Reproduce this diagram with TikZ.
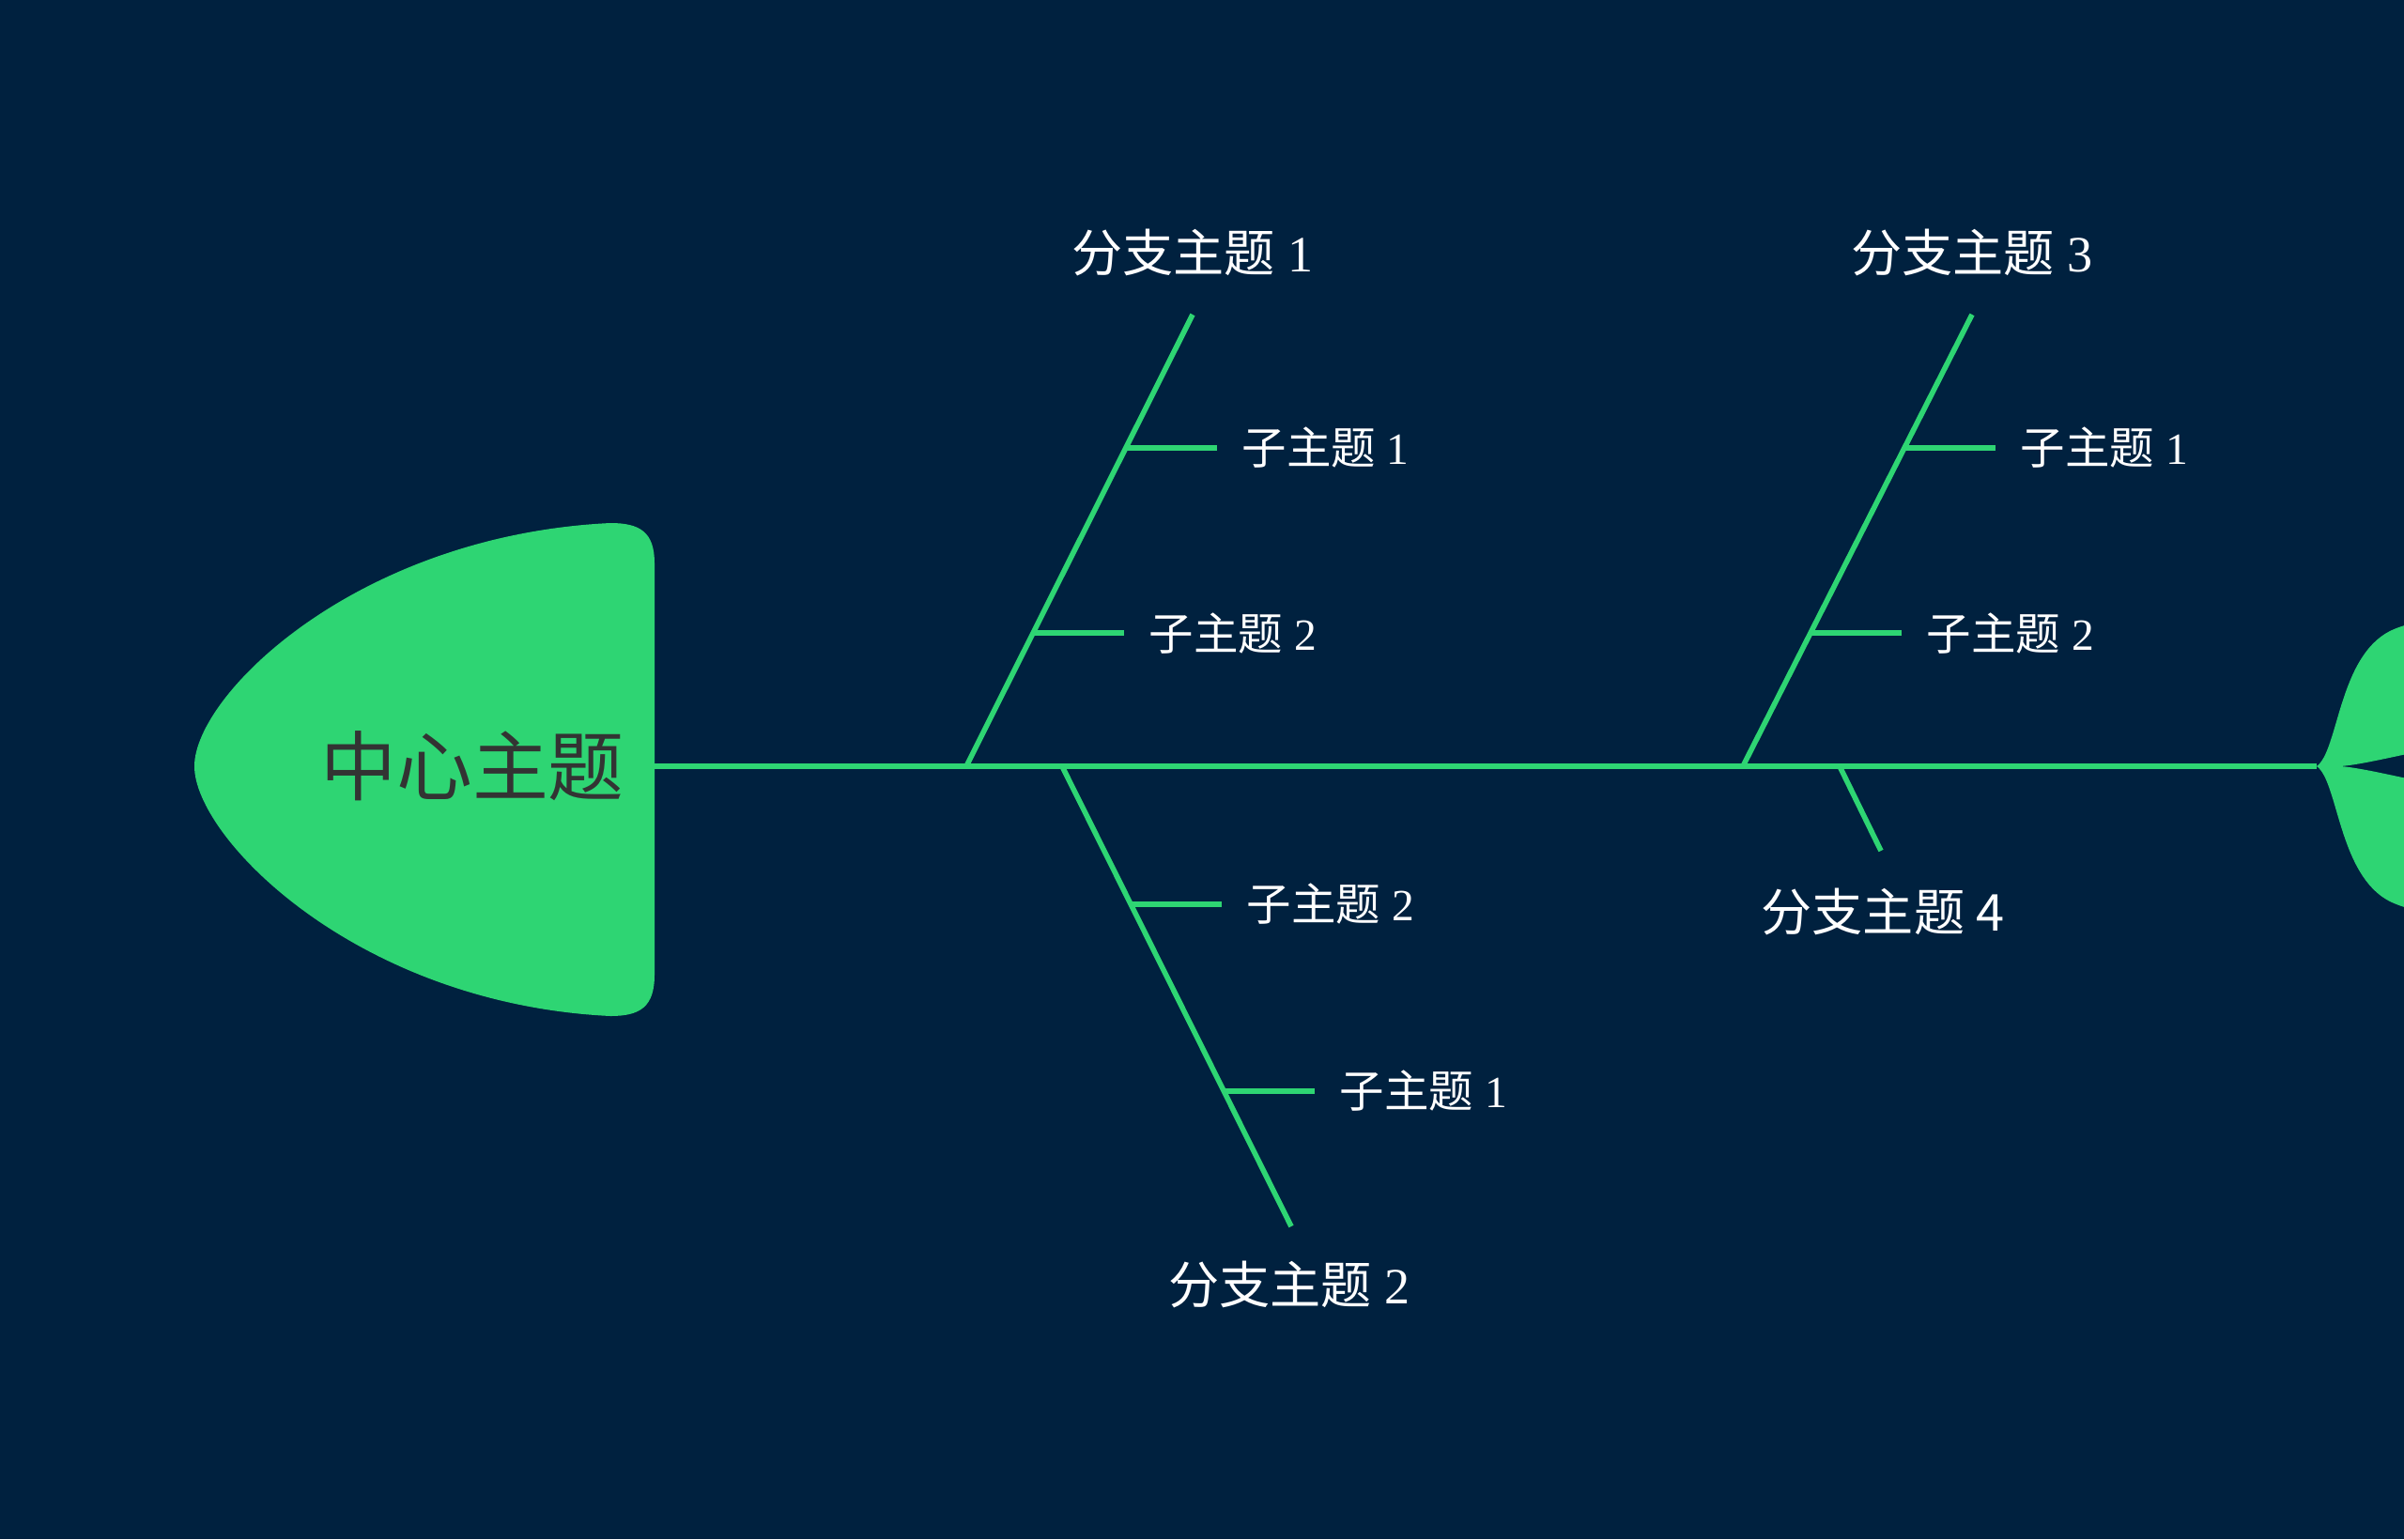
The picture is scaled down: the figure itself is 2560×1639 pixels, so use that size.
\documentclass[tikz,border=0pt]{standalone}
\usepackage{fontspec}
\setmainfont{Liberation Serif}
\newfontfamily\cjk{Noto Sans CJK SC}
\usetikzlibrary{calc}
\definecolor{bgnavy}{HTML}{00213F}
\definecolor{fishgreen}{HTML}{2ED573}
\definecolor{headtext}{HTML}{333333}

\begin{document}
\begin{tikzpicture}[x=0.01cm, y=-0.01cm,
    bone/.style={draw=fishgreen, line width=1.6pt},
    topic/.style={text=white, font=\fontsize{15.4}{18}\selectfont, inner sep=0},
    subtopic/.style={text=white, font=\fontsize{13.5}{16}\selectfont, anchor=west, inner xsep=0.26cm, inner ysep=0}]
  \useasboundingbox (0,0) rectangle (2560,1639);
  \fill[bgnavy] (0,0) rectangle (2560,1639);
  \clip (0,0) rectangle (2560,1639);
  % fish head
  \fill[fishgreen] (207,816) .. controls (207,740) and (380,570) .. (650,557)
    .. controls (682,557) and (697,567) .. (697,600) -- (697,1038)
    .. controls (697,1072) and (682,1082) .. (650,1082)
    .. controls (380,1069) and (207,892) .. (207,816) -- cycle;
  \node (center) at (503,816) [text=headtext, font={\cjk\fontsize{23}{28}\selectfont}] {中心主题};
  % spine and tail
  \coordinate (neck) at (697,816);
  \coordinate (tailj) at (2467,816);
  \draw[bone] (neck) -- (tailj);
  \fill[fishgreen] (tailj) .. controls (2490,800) and (2490,700) .. (2545,672)
    .. controls (2570,660) and (2600,658) .. (2630,665) -- (2630,790)
    .. controls (2570,800) and (2520,814) .. (2492,816)
    .. controls (2520,818) and (2570,832) .. (2630,842) -- (2630,967)
    .. controls (2600,974) and (2570,972) .. (2545,960)
    .. controls (2490,932) and (2490,832) .. (tailj) -- cycle;
  % branches
  \foreach \n/\rx/\tx/\ty in {1/1029/1270/335, 2/1131/1375/1306, 3/1856/2100/335, 4/1959/2003/906} {
    \coordinate (r\n) at (\rx,816);
    \coordinate (t\n) at (\tx,\ty);
    \draw[bone] (r\n) -- (t\n);
  }
  \node (b1) at (1270,269) [topic] {{\cjk 分支主题} 1};
  \node (b2) at (1373,1368) [topic] {{\cjk 分支主题} 2};
  \node (b3) at (2100,269) [topic] {{\cjk 分支主题} 3};
  \node (b4) at (2005,971) [topic] {{\cjk 分支主题 4}};
  % sub topics
  \foreach \b/\k/\f/\txt in {1/1/0.705/1, 1/2/0.295/2, 2/1/0.3/2, 2/2/0.706/1, 3/1/0.705/1, 3/2/0.295/2} {
    \coordinate (s\b\k) at ($(r\b)!\f!(t\b)$);
    \node (l\b\k) [subtopic] at ($(s\b\k)+(97,0)$) {{\cjk 子主题} \txt};
    \draw[bone] (s\b\k) -- (l\b\k);
  }
\end{tikzpicture}
\end{document}
